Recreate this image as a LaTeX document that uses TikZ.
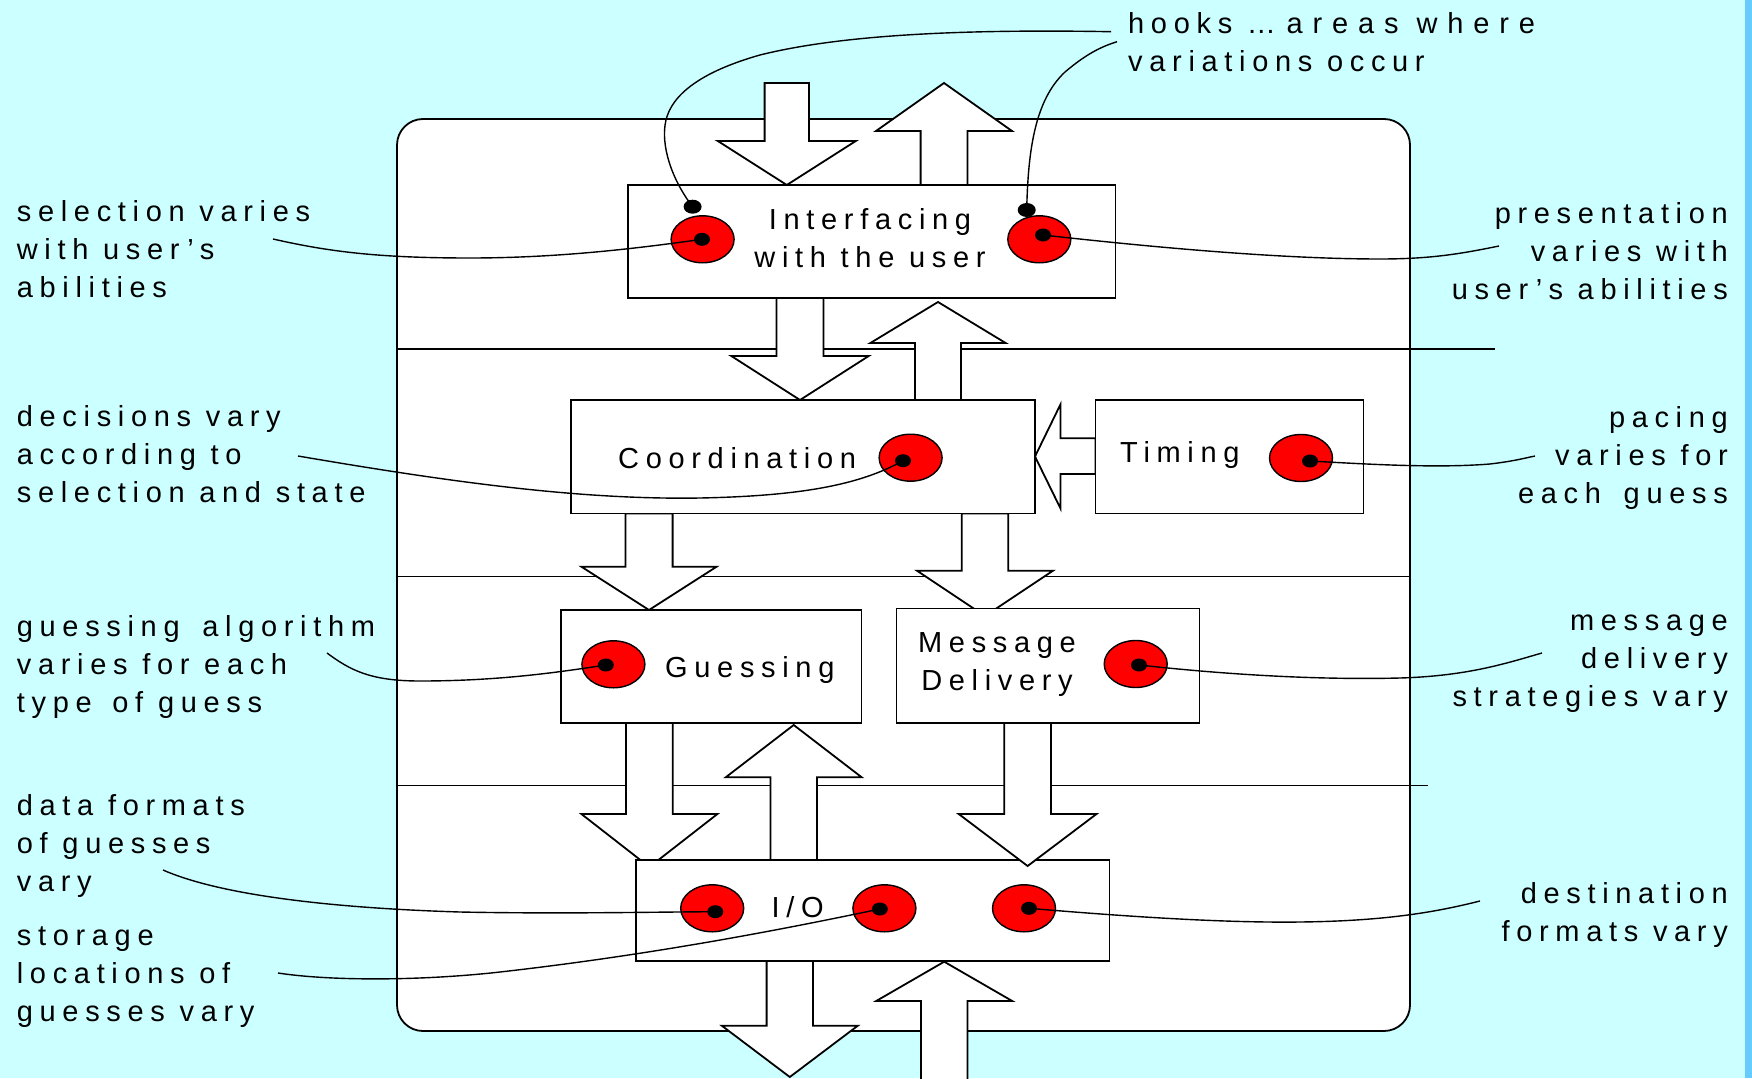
\documentclass[tikz,border=0pt]{standalone}
\usepackage{fontspec}
\usetikzlibrary{shapes.geometric}
\newfontfamily\lblfont{Liberation Sans}[LetterSpace=23]
\definecolor{bgcyan}{HTML}{CCFFFF}
\definecolor{edgeblue}{HTML}{66CCFF}
\definecolor{spotred}{HTML}{FF0000}

% block arrow: centre x, tail y, head-base y, tip y, shaft half-width, head half-width
\newcommand{\BlkArrow}[6]{%
  \filldraw[blk] (#1-#5,#2) -- (#1+#5,#2) -- (#1+#5,#3) -- (#1+#6,#3) -- (#1,#4)
    -- (#1-#6,#3) -- (#1-#5,#3) -- cycle;}

\begin{document}
\begin{tikzpicture}[x=1pt,y=-1pt,
  blk/.style={fill=white, draw=black, line width=1.8pt, line join=miter},
  box/.style={draw=black, fill=white, line width=1.8pt, inner sep=0pt, outer sep=0pt, anchor=north west},
  spot/.style={ellipse, draw=black, fill=spotred, line width=1.4pt, minimum width=63pt, minimum height=47pt, inner sep=0pt},
  pin/.style={ellipse, fill=black, minimum width=16pt, minimum height=13pt, inner sep=0pt},
  hook/.style={ellipse, fill=black, minimum width=18pt, minimum height=14pt, inner sep=0pt},
  lead/.style={draw=black, line width=1.4pt},
  txt/.style={font=\lblfont\fontsize{29}{38}\selectfont, inner sep=0pt, text=black},
  sepline/.style={draw=black, line width=1.8pt}]

\useasboundingbox (0,0) rectangle (1752,1078);
\fill[bgcyan] (0,0) rectangle (1752,1078);
\fill[edgeblue] (1745,0) rectangle (1752,1078);

% outer frame and layer separators
\node[box, rounded corners=26pt, minimum width=1013pt, minimum height=912pt] (frame) at (397,119) {};
\draw[sepline] (397,349) -- (1495,349);
\draw[sepline] (397,576.5) -- (1410,576.5);
\draw[sepline] (397,785.5) -- (1428,785.5);

% block arrows lying under the boxes
\BlkArrow{786.8}{83}{141}{185}{22.2}{69}
\BlkArrow{944}{185}{131}{83}{23.4}{68}
\BlkArrow{800}{298}{356}{400}{23.5}{68.7}
\BlkArrow{938}{400}{343}{302}{23}{67.6}
\filldraw[blk] (1095.5,438.3) -- (1060.5,438.3) -- (1060.5,404.3) -- (1035,456.5)
  -- (1060.5,508.5) -- (1060.5,474) -- (1095.5,474) -- cycle;
\BlkArrow{649}{513.5}{566.7}{610}{23.6}{67.6}
\BlkArrow{985}{513.5}{570.7}{616}{23.2}{68}
\BlkArrow{649.4}{723}{814}{867}{23.4}{68}
\BlkArrow{793.7}{860}{777.3}{725}{23.3}{68}
\BlkArrow{789.8}{961}{1025.7}{1077}{23.2}{68}
\BlkArrow{944.2}{1090}{1001}{961.7}{23.3}{68}

% component boxes
\node[box, minimum width=487.5pt, minimum height=113pt] (bInt) at (628,185) {};
\node[box, minimum width=464pt, minimum height=113.5pt] (bCoo) at (571,400) {};
\node[box, minimum width=268pt, minimum height=113.5pt] (bTim) at (1095.5,400) {};
\node[box, minimum width=300.5pt, minimum height=113pt] (bGue) at (561,610) {};
\node[box, minimum width=303pt, minimum height=114.5pt] (bMsg) at (896.5,608.5) {};
\node[box, minimum width=473.8pt, minimum height=101pt] (bIO) at (635.7,860) {};

\BlkArrow{1027.6}{723}{814}{866}{23.4}{68.9}

% box titles (multi-line nodes sit on the baseline of their last line)
\node[txt, anchor=base, align=center] (tInt) at (870,267) {Interfacing\\with the user};
\node[txt, anchor=base west] (tCoo) at (618,468) {Coordination};
\node[txt, anchor=base west] (tTim) at (1120,462) {Timing};
\node[txt, anchor=base west] (tGue) at (665,677) {Guessing};
\node[txt, anchor=base, align=center] (tMsg) at (997,690.5) {Message\\Delivery};
\node[txt, anchor=base west] (tIO) at (771.5,917) {I/O};

% variation spots
\node[spot] (sI1) at (702.6,239.3) {};
\node[spot] (sI2) at (1039.3,239.3) {};
\node[spot] (sC) at (910.6,457.7) {};
\node[spot] (sT) at (1301,458) {};
\node[spot] (sG) at (613.4,664.3) {};
\node[spot] (sM) at (1135.7,664) {};
\node[spot] (sO1) at (712.2,908.3) {};
\node[spot] (sO2) at (884.4,908.3) {};
\node[spot] (sO3) at (1024,908.3) {};

\node[pin] (dI1) at (702,239.3) {};
\node[pin] (dI2) at (1043,235) {};
\node[pin] (dC) at (903,460.7) {};
\node[pin] (dT) at (1310,461) {};
\node[pin] (dG) at (605.8,665) {};
\node[pin] (dM) at (1139,665) {};
\node[pin] (dO1) at (715.3,911.7) {};
\node[pin] (dO2) at (879.8,909) {};
\node[pin] (dO3) at (1029,908.3) {};

\node[hook] (hL) at (692.6,206.7) {};
\node[hook] (hR) at (1026.7,210) {};

% annotations
\node[txt, anchor=base west, align=left] (lHook) at (1128,72)
  {hooks …\hspace{-4pt} {\addfontfeature{LetterSpace=34}areas where}\\variations occur};
\node[txt, anchor=base west, align=left] (lSel) at (16.7,297.5) {selection varies\\with user’s\\abilities};
\node[txt, anchor=base west, align=left] (lDec) at (16.7,502.5) {decisions vary\\according to\\selection and state};
\node[txt, anchor=base west, align=left] (lGue) at (16.7,712.7) {guessing\hspace{8pt} algorithm\\varies for each\\type\hspace{6pt} of guess};
\node[txt, anchor=base west, align=left] (lDat) at (16.7,891) {data formats\\of guesses\\vary};
\node[txt, anchor=base west, align=left] (lSto) at (16.7,1021) {storage\\locations of\\guesses vary};
\node[txt, anchor=base east, align=right] (lPre) at (1728,299) {presentation\\varies with\\user’s abilities};
\node[txt, anchor=base east, align=right] (lPac) at (1728,503) {pacing\\varies for\\each\hspace{8pt} guess};
\node[txt, anchor=base east, align=right] (lMsg) at (1728,706) {message\\delivery\\strategies vary};
\node[txt, anchor=base east, align=right] (lDst) at (1728,941) {destination\\formats vary};

% leader ends beside the annotations
\coordinate (kHk1) at (1111,31.7);
\coordinate (kHk2) at (1117,41.7);
\coordinate (kSel) at (273,239);
\coordinate (kDec) at (298,456);
\coordinate (kGue) at (327,653);
\coordinate (kDat) at (163,870);
\coordinate (kSto) at (278,973);
\coordinate (kPre) at (1499,246);
\coordinate (kPac) at (1535,456);
\coordinate (kMsg) at (1542,653);
\coordinate (kDst) at (1480,901);

% leaders
\draw[lead] (hL.center) .. controls (672,180) and (660,145) .. (666,120)
  .. controls (672,95) and (700,72) .. (760,55) .. controls (840,35) and (960,29) .. (kHk1);
\draw[lead] (hR.center) .. controls (1028,150) and (1035,100) .. (1065,72)
  .. controls (1085,55) and (1100,47) .. (kHk2);
\draw[lead] (kSel) .. controls (330,252) and (380,258) .. (470,258)
  .. controls (560,258) and (640,248) .. (dI1.center);
\draw[lead] (kDec) .. controls (450,482) and (580,500) .. (700,498)
  .. controls (800,496) and (860,485) .. (dC.center);
\draw[lead] (kGue) .. controls (350,670) and (370,681) .. (420,681)
  .. controls (500,681) and (560,672) .. (dG.center);
\draw[lead] (kDat) .. controls (220,895) and (330,908) .. (460,912)
  .. controls (560,914) and (650,912) .. (dO1.center);
\draw[lead] (kSto) .. controls (330,981) and (420,981) .. (500,972)
  .. controls (650,955) and (780,930) .. (dO2.center);
\draw[lead] (dI2.center) .. controls (1150,247) and (1280,259) .. (1380,259)
  .. controls (1430,259) and (1460,254) .. (kPre);
\draw[lead] (dT.center) .. controls (1380,465) and (1440,468) .. (1490,464)
  .. controls (1515,461) and (1525,458) .. (kPac);
\draw[lead] (dM.center) .. controls (1230,675) and (1320,680) .. (1400,678)
  .. controls (1470,676) and (1510,662) .. (kMsg);
\draw[lead] (dO3.center) .. controls (1120,916) and (1220,923) .. (1300,922)
  .. controls (1390,921) and (1440,911) .. (kDst);
\end{tikzpicture}
\end{document}
